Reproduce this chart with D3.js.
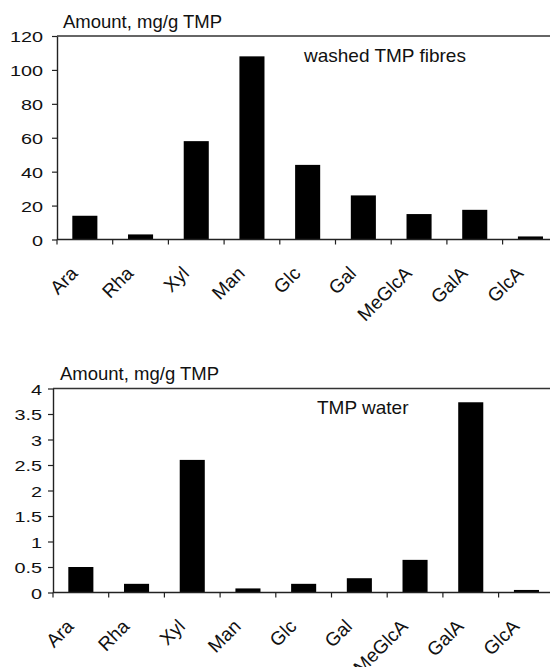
<!DOCTYPE html>
<html>
<head>
<meta charset="utf-8">
<script src="https://cdn.jsdelivr.net/npm/d3@7"></script>
<style>
  html, body { margin: 0; padding: 0; background: #fff; }
  svg { display: block; }
  text { font-family: "Liberation Sans", Arial, Helvetica, sans-serif; fill: #111; }
</style>
</head>
<body>
<script>
const categories = ["Ara", "Rha", "Xyl", "Man", "Glc", "Gal", "MeGlcA", "GalA", "GlcA"];
const fibresValues = [14, 3, 58, 108, 44, 26, 15, 17.5, 1.8];
const waterValues = [0.5, 0.17, 2.6, 0.08, 0.17, 0.28, 0.64, 3.73, 0.05];
const fibresTicks = [0, 20, 40, 60, 80, 100, 120];
const waterTicks = [0, 0.5, 1, 1.5, 2, 2.5, 3, 3.5, 4];
const fibresTickLabels = ["0", "20", "40", "60", "80", "100", "120"];
const waterTickLabels = ["0", "0.5", "1", "1.5", "2", "2.5", "3", "3.5", "4"];
const yLabel = "Amount, mg/g TMP";
const fibresTitle = "washed TMP fibres";
const waterTitle = "TMP water";

const W = 550, H = 667;
const svg = d3.select("body").append("svg").attr("width", W).attr("height", H);
svg.append("rect").attr("width", W).attr("height", H).attr("fill", "#fff");

function drawChart(cfg) {
  const g = svg.append("g");
  const step = 55.7;
  const x = d3.scaleBand().domain(categories)
    .range([cfg.left, cfg.left + step * categories.length])
    .paddingInner(0.55).paddingOuter(0.275);
  const y = d3.scaleLinear().domain(cfg.domain).range([cfg.bottom, cfg.top]);
  const right = cfg.left + step * categories.length;

  // bars
  g.selectAll("rect.bar").data(cfg.values).enter().append("rect")
    .attr("class", "bar")
    .attr("x", (d, i) => x(categories[i]))
    .attr("width", x.bandwidth())
    .attr("y", d => y(d))
    .attr("height", d => y(0) - y(d))
    .attr("fill", "#000");

  // top frame line
  g.append("line")
    .attr("x1", cfg.left).attr("x2", right)
    .attr("y1", y(cfg.domain[1])).attr("y2", y(cfg.domain[1]))
    .attr("stroke", "#333").attr("stroke-width", 1.3);

  // y axis
  const yAxis = d3.axisLeft(y).tickValues(cfg.ticks)
    .tickFormat((d, i) => cfg.tickLabels[i]).tickSize(5).tickSizeOuter(0);
  const ya = g.append("g").attr("transform", `translate(${cfg.left},0)`).call(yAxis);
  ya.select(".domain").attr("stroke", "#222").attr("stroke-width", 1.4);
  ya.selectAll(".tick line").attr("stroke", "#222").attr("stroke-width", 1.2);
  ya.selectAll(".tick text")
    .attr("x", 0).attr("dy", "0.36em")
    .attr("transform", `translate(${-cfg.labelGap},0) scale(1.28,1)`)
    .style("font-size", "15.5px")
    .style("font-family", "'Liberation Sans', Arial, sans-serif")
    .attr("fill", "#111");

  // x axis baseline
  g.append("line")
    .attr("x1", cfg.left).attr("x2", right)
    .attr("y1", y(0)).attr("y2", y(0))
    .attr("stroke", "#222").attr("stroke-width", 1.4);

  // x tick marks at category boundaries
  const bounds = categories.map(c => x(c) + x.bandwidth() / 2 - x.step() / 2)
    .concat([x(categories[categories.length - 1]) + x.bandwidth() / 2 + x.step() / 2]);
  g.selectAll("line.xt").data(bounds).enter().append("line")
    .attr("class", "xt")
    .attr("x1", d => d).attr("x2", d => d)
    .attr("y1", y(0)).attr("y2", y(0) + 5)
    .attr("stroke", "#222").attr("stroke-width", 1.2);

  // x labels rotated
  g.selectAll("text.xl").data(categories).enter().append("text")
    .attr("class", "xl")
    .attr("transform", d => `translate(${x(d) + x.bandwidth() / 2 - 6},${y(0) + 35}) rotate(-45)`)
    .attr("text-anchor", "end")
    .style("font-size", "19px")
    .text(d => d);

  // axis title
  g.append("text")
    .attr("x", cfg.titleX).attr("y", cfg.titleY)
    .style("font-size", "18.5px")
    .text(yLabel);

  // annotation
  g.append("text")
    .attr("x", cfg.annX).attr("y", cfg.annY)
    .style("font-size", "19px")
    .text(cfg.annotation);
}

drawChart({
  values: fibresValues, ticks: fibresTicks, tickLabels: fibresTickLabels,
  domain: [0, 120], left: 57, bottom: 239.5, top: 36, labelGap: 14,
  titleX: 63, titleY: 28, annX: 304, annY: 62, annotation: fibresTitle
});

drawChart({
  values: waterValues, ticks: waterTicks, tickLabels: waterTickLabels,
  domain: [0, 4], left: 53, bottom: 592.5, top: 388.5, labelGap: 11,
  titleX: 60, titleY: 379.5, annX: 317, annY: 414, annotation: waterTitle
});
</script>
</body>
</html>
